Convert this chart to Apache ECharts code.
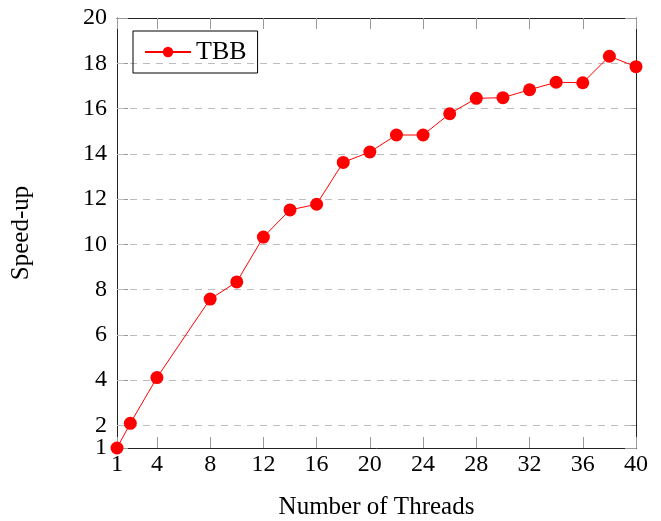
<!DOCTYPE html>
<html>
<head>
<meta charset="utf-8">
<script src="https://cdn.jsdelivr.net/npm/echarts@6/dist/echarts.min.js"></script>
<style>
  html, body { margin: 0; padding: 0; background: #fff; }
  #chart { width: 661px; height: 521px; }
</style>
</head>
<body>
<div id="chart"></div>
<script>
const threads = [1, 2, 4, 8, 10, 12, 14, 16, 18, 20, 22, 24, 26, 28, 30, 32, 34, 36, 38, 40]
const speedup = [1, 2.09, 4.11, 7.58, 8.34, 10.32, 11.52, 11.77, 13.62, 14.08, 14.83, 14.83, 15.77, 16.45, 16.48, 16.83, 17.16, 17.14, 18.31, 17.85]
const xTicks = [1, 4, 8, 12, 16, 20, 24, 28, 32, 36, 40]
const yTicks = [1, 2, 4, 6, 8, 10, 12, 14, 16, 18, 20]
const gridLines = [2, 4, 6, 8, 10, 12, 14, 16, 18]

const font = '"Liberation Serif", "Times New Roman", serif'
const chart = echarts.init(document.getElementById('chart'))

const tickStyle = { inside: true, length: 11, lineStyle: { color: '#999', width: 1 } }
const lineStyle = { show: true, lineStyle: { color: '#222', width: 1 } }
const yLabelStyle = {
  showMinLabel: true, showMaxLabel: true, hideOverlap: false,
  fontFamily: font, fontSize: 24, color: '#000', margin: 10,
}

// the "2" label sits too close to "1", so it goes on its own overlay axis
const yMainLabels = yTicks.filter((v) => v !== 2)

const option = {
  animation: false,
  grid: { left: 117, right: 25, top: 18, bottom: 73, outerBoundsMode: 'none', containLabel: false },
  legend: {
    left: 133,
    top: 31,
    padding: [8, 11, 8, 11],
    itemWidth: 46,
    itemHeight: 13,
    itemGap: 6,
    borderColor: '#000',
    borderWidth: 1,
    textStyle: { fontFamily: font, fontSize: 26, color: '#000' },
  },
  xAxis: [
    {
      type: 'value',
      min: 1,
      max: 40,
      name: 'Number of Threads',
      nameLocation: 'middle',
      nameGap: 47,
      nameTextStyle: { fontFamily: font, fontSize: 25, color: '#000' },
      axisLine: lineStyle,
      axisTick: { ...tickStyle, customValues: xTicks },
      axisLabel: {
        customValues: xTicks, showMinLabel: true, showMaxLabel: true, hideOverlap: false,
        fontFamily: font, fontSize: 24, color: '#000', margin: 5,
      },
      splitLine: { show: false },
    },
    {
      type: 'value',
      position: 'top',
      min: 1,
      max: 40,
      axisLine: lineStyle,
      axisTick: { ...tickStyle, customValues: xTicks },
      axisLabel: { show: false },
      splitLine: { show: false },
    },
  ],
  yAxis: [
    {
      type: 'value',
      min: 1,
      max: 20,
      name: 'Speed-up',
      nameLocation: 'middle',
      nameGap: 83,
      nameRotate: 90,
      nameTextStyle: { fontFamily: font, fontSize: 25, color: '#000' },
      axisLine: lineStyle,
      axisTick: { ...tickStyle, customValues: yTicks },
      axisLabel: { ...yLabelStyle, customValues: yMainLabels },
      splitLine: { show: false },
    },
    {
      type: 'value',
      position: 'right',
      min: 1,
      max: 20,
      axisLine: lineStyle,
      axisTick: { ...tickStyle, customValues: yTicks },
      axisLabel: { show: false },
      splitLine: { show: false },
    },
    {
      type: 'value',
      position: 'left',
      min: 1,
      max: 20,
      axisLine: { show: false },
      axisTick: { show: false },
      axisLabel: { ...yLabelStyle, customValues: [2], showMinLabel: false, showMaxLabel: false },
      splitLine: { show: false },
    },
  ],
  series: [
    {
      name: 'TBB',
      type: 'line',
      xAxisIndex: 0,
      yAxisIndex: 0,
      data: threads.map((t, i) => [t, speedup[i]]),
      symbol: 'circle',
      symbolSize: 13,
      itemStyle: { color: '#ff0000' },
      lineStyle: { color: '#ff0000', width: 1 },
      z: 5,
      markLine: {
        silent: true,
        symbol: 'none',
        label: { show: false },
        lineStyle: { color: '#bdbdbd', type: [7, 6], width: 1 },
        data: gridLines.map((v) => ({ yAxis: v })),
        z: 1,
      },
    },
  ],
}

chart.setOption(option)
</script>
</body>
</html>
